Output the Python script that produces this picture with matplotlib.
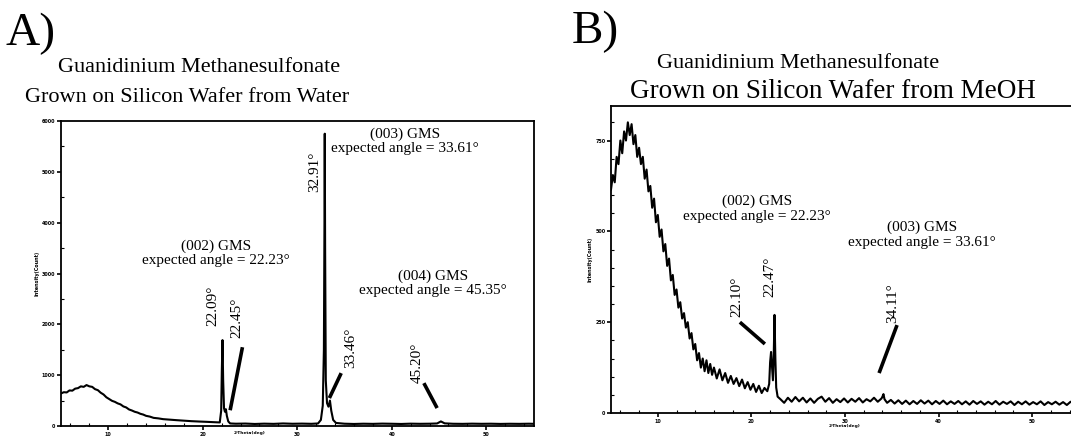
import numpy as np
import matplotlib
matplotlib.use("Agg")
import matplotlib.pyplot as plt
from matplotlib.ticker import MultipleLocator

# -----------------------------------------------------
# Diffraction patterns (2-theta in deg, intensity in counts)
# -----------------------------------------------------

water_2theta = [
    5.0, 5.3, 5.6, 5.9, 6.2, 6.5, 6.8, 7.1, 7.4, 7.7, 8.0, 8.3, 8.6, 8.9,
    9.2, 9.5, 9.8, 10.1, 10.4, 10.7, 11.0, 11.3, 11.6, 11.9, 12.2, 12.5,
    12.8, 13.1, 13.4, 13.7, 14.0, 14.4, 14.8, 15.3, 15.8, 16.5, 17.2, 18.0,
    18.8, 19.6, 20.4, 21.2, 21.8, 21.95, 22.02, 22.09, 22.16, 22.25, 22.35,
    22.45, 22.55, 22.7, 22.9, 23.5, 24.5, 25.5, 26.5, 27.5, 28.5, 29.5,
    30.5, 31.5, 32.2, 32.5, 32.7, 32.82, 32.88, 32.91, 32.95, 33.02, 33.15,
    33.3, 33.46, 33.6, 33.8, 34.1, 35.0, 36.0, 37.0, 38.0, 39.0, 40.0, 41.0,
    42.0, 43.0, 44.0, 44.8, 45.2, 45.6, 46.5, 47.5, 48.5, 49.5, 50.5, 51.5,
    52.5, 53.5, 54.5, 55.0,
]
water_counts = [
    640, 665, 660, 700, 695, 735, 745, 780, 770, 805, 780, 770, 725, 705,
    655, 620, 565, 530, 495, 475, 445, 425, 385, 365, 325, 305,
    280, 265, 240, 225, 200, 185, 160, 150, 135, 125, 115, 105,
    95, 88, 82, 75, 70, 300, 1100, 1690, 900, 350, 280,
    330, 200, 90, 50, 45, 48, 40, 46, 42, 50, 44,
    47, 43, 50, 120, 400, 1500, 4000, 5750, 3500, 900, 450,
    380, 500, 300, 120, 60, 45, 40, 45, 42, 47, 44, 40,
    46, 43, 45, 50, 90, 52, 44, 42, 46, 43, 45, 41,
    44, 42, 45, 43,
]

meoh_2theta = [
    5.0, 5.2, 5.4, 5.6, 5.8, 6.0, 6.2, 6.4, 6.6, 6.8, 7.0, 7.2, 7.4, 7.6,
    7.8, 8.0, 8.2, 8.4, 8.6, 8.8, 9.0, 9.2, 9.4, 9.6, 9.8, 10.0, 10.2,
    10.4, 10.6, 10.8, 11.0, 11.2, 11.4, 11.6, 11.8, 12.0, 12.2, 12.4, 12.6,
    12.8, 13.0, 13.2, 13.4, 13.6, 13.8, 14.0, 14.2, 14.4, 14.6, 14.8, 15.0,
    15.2, 15.4, 15.6, 15.8, 16.0, 16.3, 16.6, 16.9, 17.2, 17.5, 17.8, 18.1,
    18.4, 18.7, 19.0, 19.3, 19.6, 19.9, 20.2, 20.5, 20.8, 21.1, 21.4, 21.7,
    21.9, 22.0, 22.1, 22.2, 22.3, 22.38, 22.47, 22.56, 22.65, 22.8, 23.1,
    23.5, 23.9, 24.3, 24.7, 25.1, 25.5, 25.9, 26.3, 26.7, 27.1, 27.5, 27.9,
    28.3, 28.7, 29.1, 29.5, 29.9, 30.3, 30.7, 31.1, 31.5, 31.9, 32.3, 32.7,
    33.1, 33.5, 33.9, 34.0, 34.11, 34.22, 34.5, 34.9, 35.3, 35.7, 36.1,
    36.5, 36.9, 37.3, 37.7, 38.1, 38.5, 38.9, 39.3, 39.7, 40.1, 40.5, 40.9,
    41.3, 41.7, 42.1, 42.5, 42.9, 43.3, 43.7, 44.1, 44.5, 44.9, 45.3, 45.7,
    46.1, 46.5, 46.9, 47.3, 47.7, 48.1, 48.5, 48.9, 49.3, 49.7, 50.1, 50.5,
    50.9, 51.3, 51.7, 52.1, 52.5, 52.9, 53.3, 53.7, 54.1, 54.5, 55.0,
]
meoh_counts = [
    615, 655, 635, 705, 685, 750, 715, 775, 750, 800, 765, 795, 740, 765,
    705, 730, 685, 705, 645, 670, 610, 625, 565, 590, 525, 545, 485,
    505, 445, 465, 405, 425, 365, 380, 325, 340, 290, 305, 260,
    275, 235, 250, 205, 220, 175, 190, 145, 165, 125, 150, 115,
    145, 110, 135, 105, 125, 95, 120, 90, 110, 83, 102, 80,
    96, 74, 92, 68, 85, 64, 80, 58, 75, 55, 69, 60,
    80, 140, 168, 130, 90, 150, 270, 150, 70, 45, 38,
    28, 42, 31, 44, 32, 42, 29, 40, 28, 39, 45, 31,
    41, 28, 38, 30, 40, 29, 39, 31, 41, 29, 38, 32,
    42, 31, 40, 45, 52, 38, 28, 36, 26, 35, 25,
    34, 24, 33, 25, 35, 26, 34, 24, 33, 25, 34, 24,
    32, 25, 33, 24, 32, 23, 33, 25, 32, 23, 31, 24,
    33, 23, 31, 25, 32, 22, 31, 24, 32, 23, 30, 24,
    32, 22, 30, 24, 31, 23, 30, 22, 31, 24, 27,
]

# Peak labels: (text, x, y) in data units, rotated vertically
water_peak_labels = [
    ("22.09°", 21.1, 2370),
    ("22.45°", 23.65, 2120),
    ("32.91°", 31.8, 5000),
    ("33.46°", 35.7, 1530),
    ("45.20°", 42.7, 1235),
]
meoh_peak_labels = [
    ("22.10°", 18.45, 319),
    ("22.47°", 22.0, 374),
    ("34.11°", 35.1, 302),
]

# Leader lines from label to peak: (x0, y0, x1, y1)
water_leaders = [
    (22.9, 310, 24.2, 1550),
    (33.4, 550, 34.65, 1040),
    (43.4, 843, 44.8, 353),
]
meoh_leaders = [
    (18.77, 250, 21.44, 190),
    (33.64, 110, 35.56, 242),
]

# Reflection notes: (text, x, y)
water_notes = [
    ("(002) GMS\nexpected angle = 22.23°", 21.4, 3400),
    ("(003) GMS\nexpected angle = 33.61°", 41.4, 5600),
    ("(004) GMS\nexpected angle = 45.35°", 44.4, 2810),
]
meoh_notes = [
    ("(002) GMS\nexpected angle = 22.23°", 20.6, 562),
    ("(003) GMS\nexpected angle = 33.61°", 38.2, 490),
]

W, H = 1071, 438
serif = "Liberation Serif"

fig = plt.figure(figsize=(W / 100, H / 100), dpi=100)


def px_axes(left, top, right, bottom):
    return fig.add_axes([left / W, 1 - bottom / H, (right - left) / W,
                         (bottom - top) / H])


def style_axes(ax, ymax, ymajor, yminor):
    ax.set_xlim(5, 55)
    ax.set_ylim(0, ymax)
    ax.xaxis.set_major_locator(MultipleLocator(10))
    ax.xaxis.set_minor_locator(MultipleLocator(2))
    ax.yaxis.set_major_locator(MultipleLocator(ymajor))
    ax.yaxis.set_minor_locator(MultipleLocator(yminor))
    ax.tick_params(which="major", direction="out", length=3, width=1.2,
                   labelsize=3.5, pad=1)
    ax.tick_params(which="minor", direction="in", length=2, width=0.8)
    for lab in ax.get_xticklabels() + ax.get_yticklabels():
        lab.set_fontweight("bold")
    for sp in ax.spines.values():
        sp.set_linewidth(1.3)
    ax.set_xlabel("2-Theta(deg)", fontsize=3.2, fontweight="bold")
    ax.set_ylabel("Intensity(Count)", fontsize=3.5, fontweight="bold",
                  labelpad=2)


def decorate(ax, peak_labels, leaders, notes):
    for txt, x, y in peak_labels:
        ax.text(x, y, txt, rotation=90, ha="center", va="center",
                fontsize=11, family=serif)
    for x0, y0, x1, y1 in leaders:
        ax.plot([x0, x1], [y0, y1], color="black", linewidth=2.6,
                solid_capstyle="butt")
    for txt, x, y in notes:
        ax.text(x, y, txt, ha="center", va="center", fontsize=11,
                family=serif, linespacing=1.15)


# A) grown from water
ax_a = px_axes(61, 121, 533.5, 426)
ax_a.plot(water_2theta, water_counts, color="black", linewidth=1.5)
style_axes(ax_a, 6000, 1000, 500)
ax_a.xaxis.set_label_coords(0.40, -0.017)
decorate(ax_a, water_peak_labels, water_leaders, water_notes)

# B) grown from methanol (axes run past the right edge)
ax_b = px_axes(611, 106, 1079, 413)
ax_b.plot(meoh_2theta, meoh_counts, color="black", linewidth=1.5)
style_axes(ax_b, 845, 250, 50)
ax_b.xaxis.set_label_coords(0.5, -0.035)
decorate(ax_b, meoh_peak_labels, meoh_leaders, meoh_notes)

# Panel letters and titles
fig.text(6 / W, 1 - 34 / H, "A)", fontsize=34, family=serif, va="center")
fig.text(572 / W, 1 - 32 / H, "B)", fontsize=34, family=serif, va="center")
fig.text(199 / W, 1 - 68 / H, "Guanidinium Methanesulfonate", fontsize=16,
         family=serif, ha="center", va="center")
fig.text(187 / W, 1 - 97 / H, "Grown on Silicon Wafer from Water",
         fontsize=16, family=serif, ha="center", va="center")
fig.text(798 / W, 1 - 64 / H, "Guanidinium Methanesulfonate", fontsize=16,
         family=serif, ha="center", va="center")
fig.text(833 / W, 1 - 92 / H, "Grown on Silicon Wafer from MeOH",
         fontsize=19.5, family=serif, ha="center", va="center")

fig.savefig("out.png", dpi=100)
